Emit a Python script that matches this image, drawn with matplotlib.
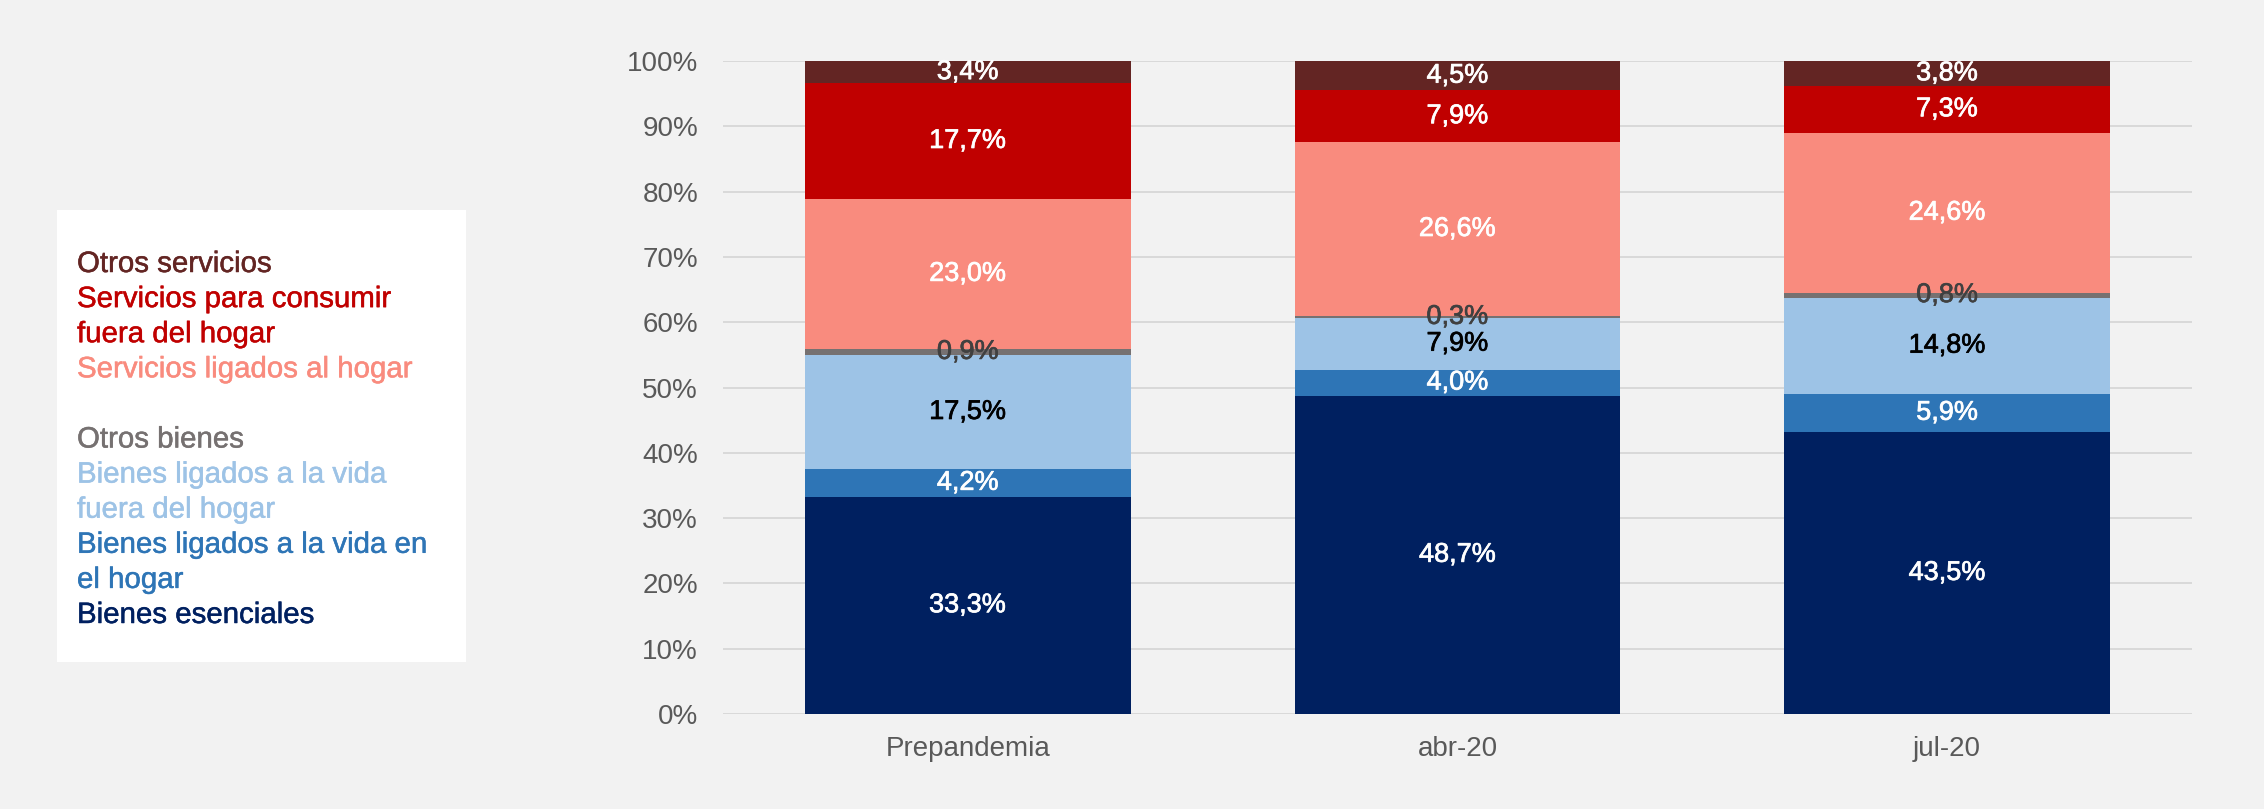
import matplotlib
matplotlib.use("Agg")
import matplotlib.pyplot as plt
from matplotlib.patches import Rectangle
import matplotlib.patheffects as pe
import numpy as np

plt.rcParams['font.family'] = ['Liberation Sans', 'DejaVu Sans']

categories = ["Prepandemia", "abr-20", "jul-20"]
series_names = ["Bienes esenciales", "Bienes ligados a la vida en el hogar",
                "Bienes ligados a la vida fuera del hogar", "Otros bienes",
                "Servicios ligados al hogar", "Servicios para consumir fuera del hogar",
                "Otros servicios"]
bienes_esenciales = [33.3, 48.7, 43.5]
bienes_en_hogar = [4.2, 4.0, 5.9]
bienes_fuera_hogar = [17.5, 7.9, 14.8]
otros_bienes = [0.9, 0.3, 0.8]
servicios_hogar = [23.0, 26.6, 24.6]
servicios_fuera = [17.7, 7.9, 7.3]
otros_servicios = [3.4, 4.5, 3.8]
yticks = [0, 10, 20, 30, 40, 50, 60, 70, 80, 90, 100]

series = [bienes_esenciales, bienes_en_hogar, bienes_fuera_hogar, otros_bienes,
          servicios_hogar, servicios_fuera, otros_servicios]
colors = ["#002060", "#2E75B6", "#9DC3E6", "#767171", "#F98B7E", "#C00000", "#632523"]
label_colors = ["white", "white", "black", "#404040", "white", "white", "white"]

legend_lines = [("Otros servicios", "#632523"),
                ("Servicios para consumir", "#C00000"),
                ("fuera del hogar", "#C00000"),
                ("Servicios ligados al hogar", "#F98B7E"),
                None,
                ("Otros bienes", "#767171"),
                ("Bienes ligados a la vida", "#9DC3E6"),
                ("fuera del hogar", "#9DC3E6"),
                ("Bienes ligados a la vida en", "#2E75B6"),
                ("el hogar", "#2E75B6"),
                ("Bienes esenciales", "#002060")]

W, H = 2264, 809
fig = plt.figure(figsize=(W / 100, H / 100), dpi=100)
fig.patch.set_facecolor("#F2F2F2")

ax = fig.add_axes([723 / W, (H - 714) / H, (2192 - 723) / W, (714 - 61) / H])
ax.set_facecolor("#F2F2F2")

vals = np.array(series, dtype=float)
totals = vals.sum(axis=0)
norm = vals / totals * 100
x = np.arange(len(categories))
bottom = np.zeros(len(categories))
for i, (v, c) in enumerate(zip(norm, colors)):
    ax.bar(x, v, bottom=bottom, width=0.665, color=c, edgecolor="none", zorder=2)
    for j in range(len(categories)):
        t = ax.text(x[j], bottom[j] + v[j] / 2, f"{vals[i][j]:.1f}%".replace(".", ","),
                    ha="center", va="center", fontsize=19.5, color=label_colors[i], zorder=3)
        t.set_path_effects([pe.withStroke(linewidth=0.5, foreground=label_colors[i])])
    bottom += v

ax.set_xlim(-0.5, 2.5)
ax.set_ylim(0, 100)
ax.set_yticks(yticks)
ax.set_yticklabels([f"{t}%" for t in yticks])
ax.set_xticks(x)
ax.set_xticklabels(categories)
ax.tick_params(axis="both", length=0, labelsize=20, labelcolor="#595959")
ax.tick_params(axis="y", pad=18)
ax.tick_params(axis="x", pad=16)
ax.grid(axis="y", color="#D9D9D9", linewidth=1.4, zorder=0)
for s in ax.spines.values():
    s.set_visible(False)
ax.axhline(0, color="#D9D9D9", linewidth=2, zorder=1)

# Legend box
fig.add_artist(Rectangle((57 / W, (H - 662) / H), 409 / W, 452 / H,
                         transform=fig.transFigure, facecolor="white", edgecolor="none"))
for i, item in enumerate(legend_lines):
    if item is None:
        continue
    txt, col = item
    ypx = 272 + i * 35.1
    t = fig.text(77 / W, (H - ypx) / H, txt, color=col, fontsize=21.2,
                 ha="left", va="baseline")
    t.set_path_effects([pe.withStroke(linewidth=0.35, foreground=col)])

fig.savefig("out.png", dpi=100, facecolor=fig.get_facecolor())
